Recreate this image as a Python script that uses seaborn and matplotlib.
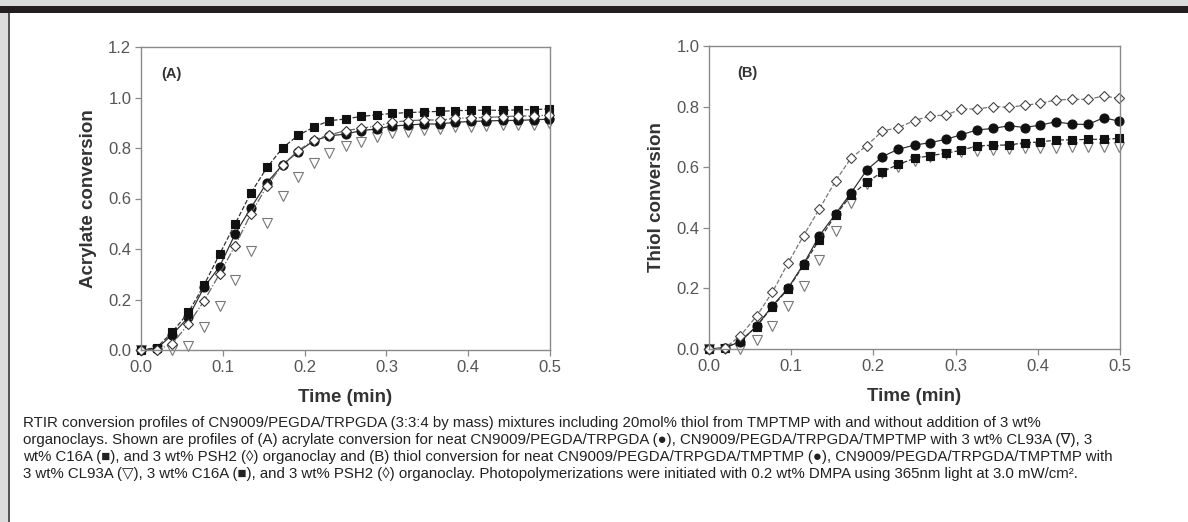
import matplotlib
matplotlib.use("Agg")
import matplotlib.pyplot as plt
from matplotlib.patches import Rectangle
import seaborn as sns

# Time axis (min)
time_min = [0.000, 0.019, 0.038, 0.058, 0.077, 0.096, 0.115, 0.134, 0.154, 0.173,
            0.192, 0.211, 0.230, 0.250, 0.269, 0.288, 0.307, 0.326, 0.346, 0.365,
            0.384, 0.403, 0.422, 0.442, 0.461, 0.480, 0.499]

# (A) acrylate conversion
acr_neat = [0.0, 0.005, 0.06, 0.13, 0.248, 0.33, 0.459, 0.561, 0.663, 0.733,
            0.785, 0.828, 0.848, 0.855, 0.869, 0.875, 0.887, 0.891, 0.895, 0.895,
            0.902, 0.905, 0.907, 0.909, 0.909, 0.912, 0.914]
acr_cl93a = [0.0, 0.0, 0.0, 0.015, 0.09, 0.174, 0.277, 0.392, 0.504, 0.611,
             0.686, 0.742, 0.781, 0.808, 0.825, 0.842, 0.858, 0.865, 0.871, 0.875,
             0.882, 0.885, 0.887, 0.891, 0.891, 0.893, 0.900]
acr_c16a = [0.0, 0.009, 0.07, 0.149, 0.257, 0.379, 0.499, 0.62, 0.723, 0.80,
            0.85, 0.882, 0.908, 0.915, 0.925, 0.931, 0.937, 0.940, 0.943, 0.945,
            0.948, 0.949, 0.950, 0.949, 0.951, 0.952, 0.955]
acr_psh2 = [0.0, 0.0, 0.024, 0.103, 0.194, 0.301, 0.413, 0.537, 0.65, 0.733,
            0.789, 0.832, 0.851, 0.869, 0.878, 0.887, 0.902, 0.908, 0.911, 0.911,
            0.917, 0.920, 0.921, 0.924, 0.927, 0.927, 0.931]

# (B) thiol conversion
thi_neat = [0.0, 0.004, 0.024, 0.076, 0.142, 0.20, 0.28, 0.373, 0.446, 0.516,
            0.591, 0.635, 0.659, 0.673, 0.681, 0.692, 0.707, 0.723, 0.728, 0.737,
            0.731, 0.739, 0.750, 0.742, 0.741, 0.763, 0.752]
thi_cl93a = [0.0, 0.0, 0.0, 0.03, 0.077, 0.142, 0.209, 0.294, 0.39, 0.481,
             0.545, 0.580, 0.602, 0.620, 0.633, 0.643, 0.650, 0.655, 0.657, 0.660,
             0.663, 0.665, 0.663, 0.668, 0.668, 0.668, 0.668]
thi_c16a = [0.0, 0.003, 0.026, 0.074, 0.14, 0.197, 0.277, 0.36, 0.442, 0.508,
            0.55, 0.585, 0.609, 0.629, 0.638, 0.646, 0.656, 0.670, 0.673, 0.673,
            0.681, 0.683, 0.690, 0.690, 0.692, 0.692, 0.695]
thi_psh2 = [0.0, 0.003, 0.043, 0.109, 0.187, 0.283, 0.374, 0.461, 0.555, 0.631,
            0.671, 0.72, 0.730, 0.754, 0.769, 0.772, 0.792, 0.792, 0.800, 0.798,
            0.804, 0.811, 0.822, 0.824, 0.824, 0.835, 0.827]

xticks = [0.0, 0.1, 0.2, 0.3, 0.4, 0.5]
yticks_a = [0.0, 0.2, 0.4, 0.6, 0.8, 1.0, 1.2]
yticks_b = [0.0, 0.2, 0.4, 0.6, 0.8, 1.0]

caption = [
    "RTIR conversion profiles of CN9009/PEGDA/TRPGDA (3:3:4 by mass) mixtures including 20mol% thiol from TMPTMP with and without addition of 3 wt%",
    "organoclays. Shown are profiles of (A) acrylate conversion for neat CN9009/PEGDA/TRPGDA (\u25cf), CN9009/PEGDA/TRPGDA/TMPTMP with 3 wt% CL93A (\u2207), 3",
    "wt% C16A (\u25a0), and 3 wt% PSH2 (\u25ca) organoclay and (B) thiol conversion for neat CN9009/PEGDA/TRPGDA/TMPTMP (\u25cf), CN9009/PEGDA/TRPGDA/TMPTMP with",
    "3 wt% CL93A (\u25bd), 3 wt% C16A (\u25a0), and 3 wt% PSH2 (\u25ca) organoclay. Photopolymerizations were initiated with 0.2 wt% DMPA using 365nm light at 3.0 mW/cm\u00b2.",
]

sns.set_style("white")
plt.rcParams['font.family'] = ['Liberation Sans', 'DejaVu Sans']

fig = plt.figure(figsize=(11.88, 5.22), dpi=100, facecolor='#dcdcdc')

# page frame: white panel, dark top bar, left rule (kept behind the axes)
fig.patches.append(Rectangle((8 / 1188, 0), 1 - 8 / 1188, 1 - 13 / 522, transform=fig.transFigure,
                             facecolor='white', edgecolor='none', zorder=-10))
fig.patches.append(Rectangle((0, 1 - 13 / 522), 1, 7 / 522, transform=fig.transFigure,
                             facecolor='#231f20', edgecolor='none', zorder=-9))
fig.patches.append(Rectangle((8 / 1188, 0), 1.5 / 1188, 1 - 13 / 522, transform=fig.transFigure,
                             facecolor='#555555', edgecolor='none', zorder=-9))


def draw_series(ax, y, marker, face, edge, ls, lc, ms):
    sns.lineplot(x=time_min, y=y, ax=ax, color=lc, linestyle=ls, linewidth=0.9,
                 marker=marker, markersize=ms, markerfacecolor=face,
                 markeredgecolor=edge, markeredgewidth=0.8, sort=False, clip_on=False)


def style_axes(ax, yticks, ylim, ylabel, tag, tag_x):
    ax.set_xlim(0, 0.5)
    ax.set_ylim(*ylim)
    ax.set_xticks(xticks)
    ax.set_xticklabels([f"{t:.1f}" for t in xticks])
    ax.set_yticks(yticks)
    ax.set_yticklabels([f"{t:.1f}" for t in yticks])
    for s in ax.spines.values():
        s.set_color('#8a8a8a')
        s.set_linewidth(1.0)
    ax.tick_params(axis='both', direction='out', length=4, width=0.9, color='#8a8a8a',
                   labelsize=12, labelcolor='#555555', pad=3, bottom=True, left=True)
    ax.set_xlabel('Time (min)', fontsize=13.5, fontweight='bold', color='#333333', labelpad=10)
    ax.set_ylabel(ylabel, fontsize=13.5, fontweight='bold', color='#333333', labelpad=8)
    ax.text(tag_x, 0.91, tag, transform=ax.transAxes, fontsize=10.5, fontweight='bold',
            color='#333333', va='center', ha='left')
    ax.set_facecolor('white')


# (A)
ax0 = fig.add_axes([141 / 1188, 1 - 350 / 522, 409 / 1188, 303 / 522])
draw_series(ax0, acr_cl93a, 'v', 'white', '#777777', 'none', '#aaaaaa', 7)
draw_series(ax0, acr_neat, 'o', '#111111', '#111111', '-', '#333333', 6.5)
draw_series(ax0, acr_c16a, 's', '#111111', '#111111', '--', '#333333', 6)
draw_series(ax0, acr_psh2, 'D', 'white', '#333333', '-.', '#666666', 5.5)
style_axes(ax0, yticks_a, (0, 1.2), 'Acrylate conversion', '(A)', 0.05)

# (B)
ax1 = fig.add_axes([709 / 1188, 1 - 349 / 522, 411 / 1188, 303 / 522])
draw_series(ax1, thi_cl93a, 'v', 'white', '#777777', 'none', '#aaaaaa', 7)
draw_series(ax1, thi_neat, 'o', '#111111', '#111111', '-', '#333333', 6.5)
draw_series(ax1, thi_c16a, 's', '#111111', '#111111', '--', '#333333', 6)
draw_series(ax1, thi_psh2, 'D', 'white', '#444444', '--', '#777777', 5.5)
style_axes(ax1, yticks_b, (0, 1.0), 'Thiol conversion', '(B)', 0.068)

# caption
for i, line in enumerate(caption):
    fig.text(23 / 1188, 1 - (423 + 17 * i) / 522, line, fontsize=10.8, color='#222222',
             va='center', ha='left')

fig.savefig('out.png', dpi=100, facecolor=fig.get_facecolor())
